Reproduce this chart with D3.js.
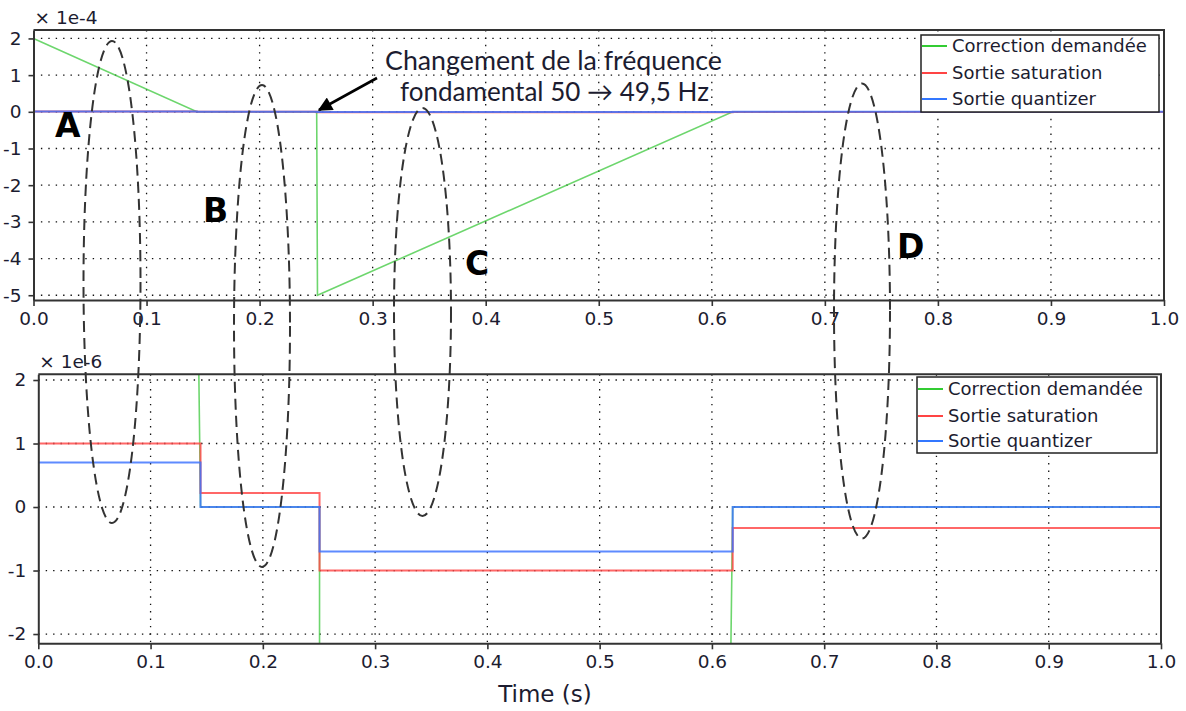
<!DOCTYPE html>
<html><head><meta charset="utf-8">
<script src="https://cdn.jsdelivr.net/npm/d3@7"></script>
<style>body{margin:0;background:#fff} svg{display:block}</style>
</head><body><svg id="c" width="1186" height="711"></svg>
<script>
// ---- data (raw values, seconds) ----
const seriesNames = ["Correction demandée", "Sortie saturation", "Sortie quantizer"];
const correctionT = [0, 0.1445, 0.2505, 0.2512, 0.6185, 1.0];
const correctionV = [2e-4, 0, 0, -5e-4, 0, 0];
const saturationT = [0, 0.1445, 0.2505, 0.6185, 1.0];
const saturationV = [1e-6, 0.22e-6, -1e-6, -0.33e-6, -0.33e-6];
const quantizerT = [0, 0.1445, 0.2505, 0.6185, 1.0];
const quantizerV = [0.7e-6, 0, -0.7e-6, 0, 0];
const xTicks = [0, 0.1, 0.2, 0.3, 0.4, 0.5, 0.6, 0.7, 0.8, 0.9, 1.0];
const yTicksTop = [-5, -4, -3, -2, -1, 0, 1, 2];
const yTicksBottom = [-2, -1, 0, 1, 2];

// ---- styling / layout ----
const colors = ["#3cc83c", "#ff4545", "#3a72ff"];
const legendColors = ["#33cc33", "#ff4444", "#3377ff"];
const FONT = "DejaVu Sans, Verdana, sans-serif";

const panels = [
  {exp: 1e-4, expLabel: "× 1e-4", x0: 33.5, x1: 1164, y0: 30, y1: 300, yDomain: [-5.13, 2.23], yTicks: yTicksTop,
   legend: {x: 921, y: 35, w: 238, h: 77, rows: [11, 38, 64]}},
  {exp: 1e-6, expLabel: "× 1e-6", x0: 38.3, x1: 1161, y0: 374.3, y1: 643.3, yDomain: [-2.146, 2.09], yTicks: yTicksBottom,
   legend: {x: 917, y: 377, w: 240, h: 76, rows: [12, 39, 64]}}
];

const svg = d3.select("#c");
const defs = svg.append("defs");

const series = [
  {t: correctionT, v: correctionV, step: false},
  {t: saturationT, v: saturationV, step: true},
  {t: quantizerT, v: quantizerV, step: true}
];

panels.forEach((p, pi) => {
  const x = d3.scaleLinear().domain([0, 1]).range([p.x0, p.x1]);
  const y = d3.scaleLinear().domain(p.yDomain).range([p.y1, p.y0]);
  const g = svg.append("g");
  const clipId = "clip" + pi;
  defs.append("clipPath").attr("id", clipId).append("rect")
    .attr("x", p.x0).attr("y", p.y0).attr("width", p.x1 - p.x0).attr("height", p.y1 - p.y0);

  // grid
  const grid = g.append("g").attr("stroke", "#111").attr("stroke-width", 1.3)
    .attr("stroke-dasharray", "1.4,6").attr("clip-path", `url(#${clipId})`);
  xTicks.slice(1, -1).forEach(t => grid.append("line").attr("x1", x(t)).attr("x2", x(t)).attr("y1", p.y0).attr("y2", p.y1));
  p.yTicks.forEach(t => grid.append("line").attr("x1", p.x0).attr("x2", p.x1).attr("y1", y(t)).attr("y2", y(t)));

  // lines
  const lg = g.append("g").attr("clip-path", `url(#${clipId})`);
  series.forEach((s, si) => {
    const pts = s.t.map((t, i) => [t, s.v[i] / p.exp]);
    const line = d3.line().x(d => x(d[0])).y(d => y(d[1]))
      .curve(s.step ? d3.curveStepAfter : d3.curveLinear);
    lg.append("path").attr("d", line(pts)).attr("fill", "none")
      .attr("stroke", colors[si]).attr("stroke-width", si === 0 ? 1.6 : 2)
      .attr("stroke-opacity", si === 0 ? 0.75 : 0.82);
  });

  // axes
  const ax = g.append("g").attr("transform", `translate(0,${p.y1})`)
    .call(d3.axisBottom(x).tickValues(xTicks).tickFormat(d3.format(".1f")).tickSize(6).tickPadding(6).tickSizeOuter(0));
  const ay = g.append("g").attr("transform", `translate(${p.x0},0)`)
    .call(d3.axisLeft(y).tickValues(p.yTicks).tickFormat(d => String(d)).tickSize(5).tickPadding(7).tickSizeOuter(0));
  [ax, ay].forEach(a => {
    a.select(".domain").attr("stroke", "#333").attr("stroke-width", 2);
    a.selectAll(".tick line").attr("stroke", "#333").attr("stroke-width", 1.6);
    a.selectAll(".tick text").attr("fill", "#1c1c30").style("font-family", FONT).style("font-size", "18.5px");
  });
  // frame top & right
  g.append("path").attr("d", `M${p.x0},${p.y0}H${p.x1}V${p.y1}`).attr("fill", "none")
    .attr("stroke", "#333").attr("stroke-width", 2);

  // exponent label
  g.append("text").attr("x", p.x0 + 1).attr("y", p.y0 - 6).text(p.expLabel)
    .attr("fill", "#1c1c30").style("font-family", FONT).style("font-size", "18.5px");

  // legend
  const L = p.legend;
  const leg = g.append("g");
  leg.append("rect").attr("x", L.x).attr("y", L.y).attr("width", L.w).attr("height", L.h)
    .attr("fill", "#fff").attr("stroke", "#222").attr("stroke-width", 1.5);
  seriesNames.forEach((n, i) => {
    const yy = L.y + L.rows[i];
    leg.append("line").attr("x1", L.x + 1).attr("x2", L.x + 26).attr("y1", yy).attr("y2", yy)
      .attr("stroke", legendColors[i]).attr("stroke-width", 2);
    leg.append("text").attr("x", L.x + 31).attr("y", yy).attr("dy", "0.35em").text(n)
      .attr("fill", "#1c1c30").style("font-family", FONT).style("font-size", "18px");
  });
});

// x axis title
svg.append("text").attr("x", 545).attr("y", 702).attr("text-anchor", "middle").text("Time (s)")
  .attr("fill", "#1c1c30").style("font-family", FONT).style("font-size", "23px");

// ---- annotations ----
const ellipses = [
  {cx: 112, cy: 282, rx: 28.5, ry: 241},
  {cx: 262, cy: 326, rx: 28, ry: 241},
  {cx: 422.5, cy: 312, rx: 28.5, ry: 204},
  {cx: 862, cy: 311, rx: 28, ry: 227.5}
];
const ann = svg.append("g");
ellipses.forEach(e => ann.append("ellipse").attr("cx", e.cx).attr("cy", e.cy).attr("rx", e.rx).attr("ry", e.ry)
  .attr("fill", "none").attr("stroke", "#333").attr("stroke-width", 2).attr("stroke-dasharray", "11,6"));

const letters = [["A", 55, 137], ["B", 203, 222], ["C", 465, 275], ["D", 897, 258]];
letters.forEach(l => ann.append("text").attr("x", l[1]).attr("y", l[2]).text(l[0])
  .attr("fill", "#000").style("font-family", FONT).style("font-weight", "bold").style("font-size", "33px"));

ann.append("text").attr("x", 385).attr("y", 70).text("Changement de la fréquence")
  .attr("textLength", 337).attr("lengthAdjust", "spacingAndGlyphs")
  .attr("fill", "#1c1c30").style("font-family", "Lato, sans-serif").style("font-size", "26.5px");
ann.append("text").attr("x", 400).attr("y", 101).text("fondamental 50 → 49,5 Hz")
  .attr("textLength", 309).attr("lengthAdjust", "spacingAndGlyphs")
  .attr("fill", "#1c1c30").style("font-family", "Lato, sans-serif").style("font-size", "26.5px");

defs.append("marker").attr("id", "ah").attr("viewBox", "0 0 10 10").attr("refX", 9).attr("refY", 5)
  .attr("markerWidth", 6.5).attr("markerHeight", 5.5).attr("orient", "auto").attr("markerUnits", "strokeWidth")
  .append("path").attr("d", "M0,0L10,5L0,10z").attr("fill", "#000");
ann.append("line").attr("x1", 377).attr("y1", 78).attr("x2", 319).attr("y2", 110)
  .attr("stroke", "#000").attr("stroke-width", 2.6).attr("marker-end", "url(#ah)");
</script></body></html>
